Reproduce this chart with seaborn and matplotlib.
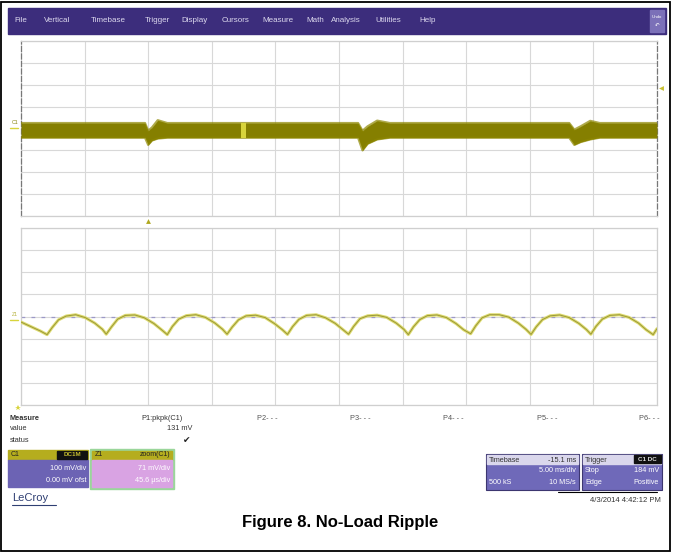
import matplotlib
matplotlib.use("Agg")
import numpy as np
import pandas as pd
import seaborn as sns
import matplotlib.pyplot as plt
from matplotlib.patches import Rectangle

# upper trace (C1): noisy band, envelope, in divisions
band_t = [0.0, 1.95, 2.0, 2.06, 2.15, 2.3, 5.3, 5.37, 5.45, 5.6, 5.8,
          8.62, 8.7, 8.8, 8.95, 9.1, 10.0]
band_hi = [0.25, 0.25, -0.10, 0.05, 0.38, 0.25, 0.25, -0.10, 0.10, 0.36, 0.25,
           0.25, -0.05, 0.10, 0.35, 0.25, 0.25]
band_lo = [-0.42, -0.42, -0.75, -0.55, -0.46, -0.42, -0.42, -1.0, -0.70, -0.50, -0.42,
           -0.42, -0.75, -0.62, -0.50, -0.42, -0.42]
stripe_t = [3.46, 3.53]

# lower trace (Z1 zoom): ripple, in divisions
ripple_t = [0.00, 0.15, 0.30,
            0.41, 0.49, 0.59, 0.71, 0.86, 1.01, 1.16, 1.28,
            1.34, 1.42, 1.52, 1.64, 1.79, 1.94, 2.09, 2.21,
            2.30, 2.38, 2.48, 2.60, 2.75, 2.90, 3.05, 3.17,
            3.24, 3.32, 3.42, 3.54, 3.69, 3.84, 3.99, 4.11,
            4.19, 4.27, 4.37, 4.49, 4.64, 4.79, 4.94, 5.06,
            5.15, 5.23, 5.33, 5.45, 5.60, 5.75, 5.90, 6.02,
            6.09, 6.17, 6.27, 6.39, 6.54, 6.69, 6.84, 6.96,
            7.07, 7.15, 7.25, 7.37, 7.52, 7.67, 7.82, 7.94,
            8.02, 8.10, 8.20, 8.32, 8.47, 8.62, 8.77, 8.89,
            8.96, 9.04, 9.14, 9.26, 9.41, 9.56, 9.71, 9.83,
            9.94, 10.00]
ripple_v = [-0.25, -0.45, -0.65,
            -0.82, -0.50, -0.15, 0.02, 0.08, -0.05, -0.30, -0.58,
            -0.80, -0.48, -0.12, 0.05, 0.07, -0.06, -0.32, -0.60,
            -0.82, -0.45, -0.12, 0.04, 0.08, -0.04, -0.30, -0.58,
            -0.80, -0.48, -0.15, 0.03, 0.06, -0.05, -0.33, -0.60,
            -0.81, -0.46, -0.13, 0.05, 0.08, -0.06, -0.31, -0.59,
            -0.80, -0.45, -0.10, 0.03, 0.06, -0.04, -0.30, -0.58,
            -0.82, -0.47, -0.14, 0.04, 0.07, -0.05, -0.32, -0.60,
            -0.78, -0.42, -0.06, 0.08, 0.08, -0.03, -0.30, -0.58,
            -0.81, -0.47, -0.14, 0.03, 0.07, -0.05, -0.31, -0.59,
            -0.80, -0.45, -0.12, 0.05, 0.08, -0.04, -0.30, -0.60,
            -0.82, -0.55]

menu_items = ["File", "Vertical", "Timebase", "Trigger", "Display", "Cursors",
              "Measure", "Math", "Analysis", "Utilities", "Help"]
menu_x = [14, 44, 91, 145, 181, 222, 262, 306, 331, 375, 419]
param_labels = ["P2- - -", "P3- - -", "P4- - -", "P5- - -", "P6- - -"]
param_x = [257, 350, 443, 537, 639]

sns.set_theme(style="white")
plt.rcParams["font.family"] = ["Liberation Sans", "DejaVu Sans"]

W, H = 674, 554
fig = plt.figure(figsize=(W / 100, H / 100), dpi=100)


def rect(x, y, w, h):
    return [x / W, 1 - (y + h) / H, w / W, h / H]


bg = fig.add_axes([0, 0, 1, 1])
bg.set_xlim(0, W)
bg.set_ylim(H, 0)
bg.axis("off")

bg.add_patch(Rectangle((1, 2), 669, 549, fill=False, ec="black", lw=1.3))

# menu bar
bg.add_patch(Rectangle((8, 8), 658, 26, color="#3c2d7c"))
for name, x in zip(menu_items, menu_x):
    bg.text(x, 21, name, color="#dcd8ee", fontsize=5.8, va="center")
bg.add_patch(Rectangle((650, 10), 14, 22, color="#7b70b8"))
bg.text(657, 17, "Undo", color="white", fontsize=3.2, ha="center", va="center")
bg.text(657, 25, "\u21b6", color="white", fontsize=4, ha="center", va="center")


def scope_axes(y0, y1):
    ax = fig.add_axes(rect(21, y0, 636, y1 - y0))
    ax.set_xlim(0, 10)
    ax.set_ylim(-4, 4)
    ax.set_xticks(range(11))
    ax.set_yticks(range(-4, 5))
    ax.grid(True, color="#d8d8d8", lw=0.8)
    ax.tick_params(length=0, labelbottom=False, labelleft=False)
    for s in ax.spines.values():
        s.set_color("#cfcfcf")
        s.set_linewidth(0.9)
    return ax


ax1 = scope_axes(41, 216)
for side in ["left", "right"]:
    ax1.spines[side].set_color("#777777")
    ax1.spines[side].set_linestyle((0, (4, 2)))
ax1.fill_between(band_t, band_lo, band_hi, color="#857f00", lw=0, zorder=3)
sns.lineplot(x=band_t, y=band_hi, ax=ax1, color="#8d8700", lw=1.6, alpha=0.7, zorder=3)
sns.lineplot(x=band_t, y=band_lo, ax=ax1, color="#8d8700", lw=1.6, alpha=0.7, zorder=3)
ax1.fill_between(stripe_t, [-0.42, -0.42], [0.25, 0.25], color="#d8d43c", lw=0, zorder=4)
ax1.set_xlabel("")
ax1.set_ylabel("")

ax2 = scope_axes(228, 405)
ax2.axhline(0, color="#9c98c8", lw=0.9, ls=(0, (3, 5)), zorder=2)
ripple = pd.DataFrame({"t": ripple_t, "v": ripple_v})
sns.lineplot(data=ripple, x="t", y="v", ax=ax2, color="#dedc70", lw=2.2, zorder=3)
sns.lineplot(data=ripple, x="t", y="v", ax=ax2, color="#9a9738", lw=0.7, zorder=4)
ax2.set_xlabel("")
ax2.set_ylabel("")

# channel markers
bg.text(12, 122, "C1", color="#8a8612", fontsize=3.8, va="center")
bg.plot([10, 18], [128, 128], color="#d8d43c", lw=1)
bg.text(12, 314, "Z1", color="#b8b440", fontsize=3.8, va="center")
bg.plot([10, 18], [320, 320], color="#d8d43c", lw=1)
bg.plot(148, 221, marker="^", ms=3.5, color="#b0a820", mew=0)
bg.plot(661, 88, marker="<", ms=3.5, color="#c8c030", mew=0)
bg.plot(18, 408, marker="*", ms=4, color="#d8d43c", mew=0)

# measure table
tk = dict(fontsize=5.3, va="center", color="#333333")
bg.text(10, 418, "Measure", fontweight="bold", **tk)
bg.text(10, 429, "value", **tk)
bg.text(10, 440, "status", **tk)
bg.text(141, 418, "P1:pkpk(C1)", **tk)
bg.text(192, 429, "131 mV", ha="right", **tk)
bg.text(187, 441, "\u2714", fontsize=6.5, va="center", ha="center", color="#222222",
        family="DejaVu Sans")
for lab, x in zip(param_labels, param_x):
    bg.text(x, 418, lab, fontsize=5.3, va="center", color="#555555")

# C1 descriptor
bg.add_patch(Rectangle((8, 450), 80, 10, color="#b5ad1e"))
bg.add_patch(Rectangle((8, 460), 80, 27, color="#6c63b4"))
bg.text(11, 455, "C1", fontsize=5, va="center", color="#222222")
bg.add_patch(Rectangle((57, 451), 30, 8, color="#111111"))
bg.text(72, 455, "DC1M", fontsize=4.5, va="center", ha="center", color="#c8c030",
        fontweight="bold")
bg.text(86, 469, "100 mV/div", fontsize=5.2, va="center", ha="right", color="white")
bg.text(86, 480, "0.00 mV ofst", fontsize=5.2, va="center", ha="right", color="white")

# Z1 descriptor
bg.add_patch(Rectangle((90, 449), 84, 40, color="#9ad69a"))
bg.add_patch(Rectangle((92, 451), 80, 9, color="#b5ad1e"))
bg.add_patch(Rectangle((92, 460), 80, 27, color="#d9a3e3"))
bg.text(95, 455, "Z1", fontsize=5, va="center", color="#222222")
bg.text(170, 455, "zoom(C1)", fontsize=5, va="center", ha="right", color="#222222")
bg.text(170, 469, "71 mV/div", fontsize=5.2, va="center", ha="right", color="white")
bg.text(170, 480, "45.6 \u00b5s/div", fontsize=5.2, va="center", ha="right", color="white")

bg.text(12, 498, "LeCroy", fontsize=8, va="center", color="#2f3f73")
bg.plot([12, 56], [505, 505], color="#2f3f73", lw=0.8)

# timebase / trigger
for x0, w in [(486, 93), (582, 80)]:
    bg.add_patch(Rectangle((x0, 454), w, 36, color="#6f69b9", ec="#3c3670", lw=0.8))
    bg.add_patch(Rectangle((x0 + 1, 455), w - 2, 9, color="#dad7ec"))
tb = dict(fontsize=5.2, va="center")
bg.text(489, 460, "Timebase", color="#333333", **tb)
bg.text(576, 460, "-15.1 ms", ha="right", color="#333333", **tb)
bg.text(576, 471, "5.00 ms/div", ha="right", color="white", **tb)
bg.text(489, 482, "500 kS", color="white", **tb)
bg.text(576, 482, "10 MS/s", ha="right", color="white", **tb)
bg.text(585, 460, "Trigger", color="#333333", **tb)
bg.add_patch(Rectangle((634, 455), 27, 8, color="#111111"))
bg.text(647.5, 459.5, "C1 DC", fontsize=4.5, va="center", ha="center", color="#dddddd",
        fontweight="bold")
bg.text(585, 471, "Stop", color="white", **tb)
bg.text(659, 471, "184 mV", ha="right", color="white", **tb)
bg.text(585, 482, "Edge", color="white", **tb)
bg.text(659, 482, "Positive", ha="right", color="white", **tb)
bg.plot([558, 657], [492, 492], color="black", lw=0.8)
bg.text(661, 500, "4/3/2014 4:42:12 PM", fontsize=5.5, va="center", ha="right",
        color="#333333")

bg.text(340, 523, "Figure 8. No-Load Ripple", fontsize=12, fontweight="bold",
        ha="center", va="center", color="black")

fig.savefig("out.png", dpi=100)
